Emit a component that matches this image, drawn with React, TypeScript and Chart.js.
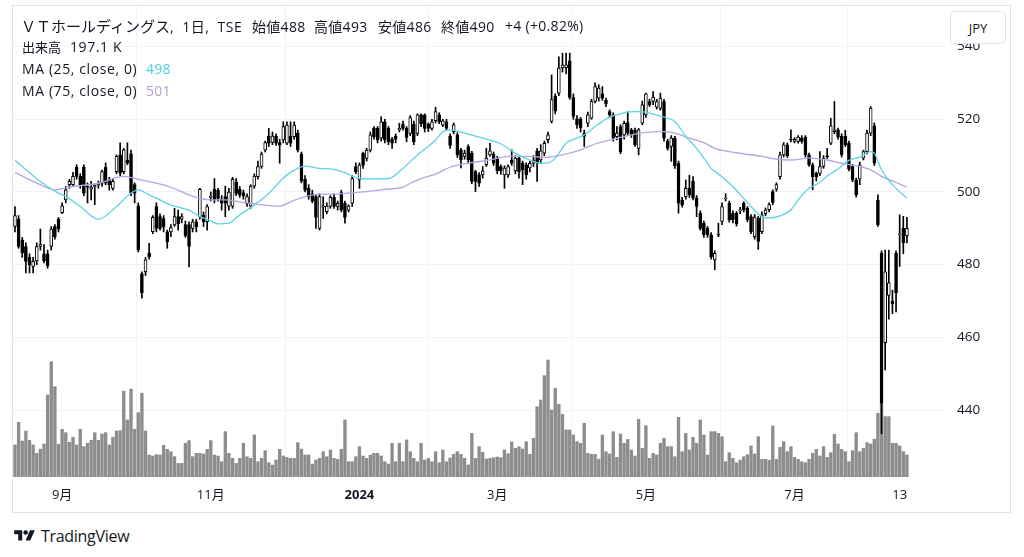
import React, { useEffect, useRef } from 'react';
import { Chart, registerables } from 'chart.js';

Chart.register(...registerables);

// ---- Data (index 0 = 2023-08-15 ... index 246 = 2024-08-15) ----
const opens: number[] = [
  490.5, 492.5, 486.8, 485, 482, 479.5, 481, 485, 483, 483,
  485, 490.5, 492.5, 494.3, 497.8, 502, 502, 506.8, 504.3, 506.8,
  501.5, 500.8, 501.5, 502, 502.4, 506.8, 503.3, 501, 505.6, 510.2,
  505.6, 508.8, 510.5, 502, 496.2, 477.5, 478.1, 483.2, 489.1, 496,
  493.2, 492.7, 489, 489, 490.9, 493.2, 492.5, 491, 491, 490,
  491.8, 493.2, 493.6, 491.8, 498.5, 500.7, 500.5, 498, 498.7, 496.1,
  496.1, 502.8, 500.7, 499.8, 496.7, 496.1, 501.6, 504.2, 507, 511.5,
  515.4, 513.6, 515.4, 513.6, 514.3, 513.4, 515.4, 515.2, 516.3, 510.4,
  503.5, 501, 499.5, 498.7, 490, 495.8, 494.6, 496, 498.5, 496,
  499.8, 496.9, 495, 496.9, 507, 503.3, 510.6, 509.2, 511.5, 517.5,
  517.5, 514.8, 519.3, 517.5, 514.5, 515.4, 517.1, 518.7, 517.5, 516.1,
  518.7, 516.1, 521.2, 521.2, 518.7, 517.5, 519.6, 521.2, 518.4, 519.3,
  515.4, 516.6, 515.7, 511.6, 509.8, 512.5, 510.7, 505.6, 504.7, 504.7,
  507.5, 510.2, 510.4, 509.3, 507, 504.7, 504.7, 508.8, 505.8, 509.3,
  507.9, 507.5, 506.6, 507.9, 511.3, 508.8, 510.7, 514.4, 519.4, 526.3,
  527.2, 534.1, 534.2, 536.1, 526, 520.1, 520.1, 516.2, 518.9, 520.3,
  524.9, 525.8, 527, 525.2, 522.1, 521.2, 515.2, 518, 515.7, 519.1,
  517.1, 517.1, 512, 518.9, 521.2, 524.9, 524.9, 523.3, 523, 524.9,
  513.9, 512.5, 514.8, 507.9, 497.8, 498.7, 501, 502.9, 498.3, 494.2,
  491.4, 490, 488.2, 481.3, 488.3, 491.9, 498.1, 496.9, 494.2, 494.2,
  494.8, 496.9, 495.5, 493.2, 487.7, 492.8, 489.1, 494, 495.1, 500.1,
  500.8, 504.2, 510.2, 513, 514.4, 513.9, 513.9, 514.8, 515.1, 510.2,
  507.5, 505.1, 505.1, 507, 509.8, 513.4, 516.6, 517.1, 515.3, 515.3,
  513.4, 507, 503.3, 503.5, 509.3, 511.1, 516.2, 518.2, 497.8, 483.2,
  458.5, 471.5, 470, 483.2, 488.2, 490, 488,
];

const highs: number[] = [
  496, 493.5, 487.5, 486, 483, 482, 486, 489.8, 485.5, 484,
  490.5, 491, 493, 497, 501.5, 503.5, 505.4, 507.5, 505, 507.5,
  502.5, 502.9, 502, 503, 506, 508, 504, 503.5, 510.2, 513.5,
  512, 513.5, 511.5, 502.5, 497, 478, 482, 485.9, 493.5, 497,
  494, 493.5, 489.5, 491, 495.5, 495, 494, 492, 491.8, 492.5,
  492.5, 501, 494.5, 496.5, 500, 503.7, 501, 499, 501.6, 501,
  504, 503.7, 501.5, 500.5, 499.5, 502, 505, 508.5, 511, 514,
  517.5, 516.5, 516, 514.5, 519.3, 519.3, 519.3, 519.3, 517, 511,
  504.5, 502, 500.5, 499.2, 499.5, 498.7, 497, 499, 499.5, 497.5,
  500.5, 497.5, 496.5, 504.5, 508, 508, 511, 512, 516.5, 518,
  518, 520.7, 520, 518, 515, 516, 518.9, 519.5, 518, 521,
  519.5, 521.5, 521.5, 521.5, 519, 520, 523.3, 521.8, 520, 520,
  516, 519, 516.3, 512, 511.5, 513, 511.2, 506, 505.3, 507,
  512, 513.4, 511, 509.8, 507.5, 507.2, 507.5, 511.6, 510, 509.8,
  508.5, 508, 508.5, 510, 512, 513, 514, 516.5, 532.2, 527,
  537.2, 538.2, 538.2, 538.2, 527, 521, 520.5, 517, 522, 525.5,
  530, 529.5, 529, 525.8, 522.6, 521.8, 518, 518.5, 519.5, 522.1,
  517.5, 517.6, 517.5, 525, 527.2, 525.5, 527.6, 525.5, 527.2, 525.5,
  514.5, 515.5, 515.3, 508.5, 498.5, 503.3, 504.6, 504.2, 499, 494.8,
  492, 490.5, 488.8, 483.8, 491.4, 497, 499.5, 497.5, 494.8, 494.6,
  495.8, 497.3, 496, 493.8, 493.8, 493.3, 494.5, 495.6, 497, 500.6,
  502.5, 511, 513.6, 513.5, 517.1, 515, 515.5, 515.5, 515.5, 510.7,
  508, 505.5, 511.1, 510, 512, 520.3, 524.9, 517.6, 516, 517,
  514, 507.6, 503.8, 508.2, 511.5, 517, 523.5, 519, 499.2, 483.8,
  484, 484, 473, 483.8, 493.7, 493.3, 493,
];

const lows: number[] = [
  489, 484.5, 482, 477.7, 477.7, 477.7, 480, 484, 480.5, 479,
  484, 487, 489, 494, 497, 501, 501.5, 503.5, 501, 499,
  497, 497.8, 496.5, 501, 501.5, 502, 500.5, 500.5, 505, 504.5,
  505, 507.5, 499, 497, 483.5, 470.8, 477, 481.5, 488.5, 489,
  489.5, 489, 484.5, 487.7, 490.5, 489.5, 491.5, 487.5, 479.4, 489,
  489, 492.5, 490.5, 489.5, 497.5, 497, 497.5, 495, 493.2, 495,
  495.5, 499, 498.5, 498, 496, 495.5, 501, 503.5, 506.5, 511,
  512.5, 513, 512.8, 507.9, 513.5, 513, 512.5, 514.5, 511, 502.5,
  500, 498, 497, 490, 489.5, 492.7, 494, 495.5, 495.5, 495,
  494.5, 491.4, 494.5, 496, 505, 501, 506.5, 508.5, 511, 514.5,
  513.5, 514, 513.5, 513, 512, 513.5, 516.5, 517, 513.8, 515.5,
  513, 515.5, 518, 516.5, 516.6, 517, 519, 518.8, 518, 517,
  512, 516, 509.5, 506.6, 509, 508, 502.3, 500.1, 501.5, 503.8,
  507, 509.8, 507.3, 505, 504.8, 501, 504, 507.3, 505, 503.8,
  502, 503.5, 505.5, 507, 502.9, 508, 510, 513.5, 519, 521.5,
  526.5, 533, 532.5, 525.5, 520, 517.5, 516.5, 512.5, 518, 520,
  524.5, 525, 525.2, 523.5, 520.5, 514, 514.3, 510.5, 514.5, 515.5,
  515, 512.5, 510.2, 518.5, 520.5, 523.5, 524, 522.8, 522.5, 514,
  511.5, 508.4, 506.5, 494.2, 495.8, 498, 498.5, 497.8, 493.2, 489.5,
  487.5, 487.5, 481.5, 478.6, 487.7, 491, 497.5, 491.7, 491.5, 490.6,
  494, 494.5, 491.8, 488.5, 487, 484.2, 488.5, 493.5, 494.5, 496.5,
  500.2, 503.5, 509.6, 509.5, 513.8, 513.5, 513.4, 513.4, 509.6, 507,
  500.6, 503, 504.5, 506.5, 509.2, 513, 516, 514.5, 509.6, 512.5,
  505.8, 502.8, 498.6, 502, 508.8, 510.5, 515.5, 507.3, 490.5, 433.5,
  451, 465, 466.5, 467, 479.5, 483, 486,
];

const closes: number[] = [
  493.5, 485, 483.2, 480.9, 480, 480.9, 485, 485.5, 481, 479.7,
  489.8, 487.7, 489.8, 496.2, 500.6, 502.9, 504.3, 504.3, 502, 499.7,
  501.3, 501.3, 501.8, 502.4, 505.6, 502.4, 502, 502.9, 509.8, 505.2,
  511.6, 507.9, 499.7, 499.7, 484.1, 472.3, 481.3, 482.2, 493, 490,
  490, 490.4, 486.3, 490.2, 493.2, 491.2, 493.2, 488, 485, 491.8,
  490.4, 500.7, 491.8, 496, 498.7, 497.8, 498.2, 496.9, 496.9, 500,
  503.5, 499.6, 499.2, 498.9, 498.7, 501.6, 504.4, 507, 510.4, 513.6,
  513.4, 515.4, 513.4, 512.9, 518, 518.4, 513.4, 518.4, 511.5, 503,
  500.5, 498.7, 497.5, 493, 498.7, 496.2, 496.1, 498.5, 496, 496.9,
  495, 493, 496.1, 503.7, 505.6, 507.4, 507.4, 511.5, 515.7, 515.2,
  514.3, 519.3, 514.3, 513.8, 513.4, 514.5, 517.5, 517.5, 515, 520.5,
  513.8, 521.2, 518.7, 517.5, 517.5, 519.3, 522.1, 519.3, 519.6, 517.5,
  512.8, 518.5, 510.2, 508.8, 510.7, 508.8, 502.9, 502.9, 502.4, 505.8,
  509.3, 511.3, 507.9, 505.8, 505.8, 506.6, 507, 507.9, 509.3, 505.6,
  506.1, 504.7, 507.9, 508.8, 507.9, 511.3, 513.4, 515.7, 525.4, 522.2,
  534.1, 535, 535, 526, 520.8, 518.5, 517.7, 515.3, 521.2, 524.9,
  529, 528.6, 525.8, 524.2, 521.2, 514.8, 516.2, 511.1, 518.9, 516.2,
  515.7, 513, 517.1, 524, 527, 524, 526.1, 524.9, 525.8, 514.8,
  512, 514.8, 507.2, 496.9, 496.4, 501, 499.2, 498.3, 496, 490,
  488.2, 488.2, 482.2, 483.1, 488.1, 496, 498.3, 492.3, 492.3, 491.2,
  495.1, 495.1, 492.3, 489.1, 493.1, 486.4, 493.7, 495.1, 496.5, 497.1,
  502, 510.2, 513, 509.9, 514.3, 514.5, 515.1, 513.9, 510.2, 507.5,
  504.2, 504.2, 507, 509.3, 509.7, 518.2, 517.1, 515.1, 510.2, 513,
  506.3, 503.3, 499.2, 507.5, 511.1, 516.2, 523.1, 507.9, 490.9, 441.9,
  478, 475, 469.2, 472.2, 488.5, 486, 490,
];

// volume in thousands of shares
const volumesK: number[] = [
  287, 490, 322, 412, 329, 287, 212, 250, 296, 735,
  1033, 809, 293, 427, 397, 311, 356, 287, 427, 272,
  302, 329, 397, 329, 385, 397, 287, 356, 412, 415,
  768, 511, 788, 427, 577, 750, 412, 197, 188, 200,
  198, 284, 248, 227, 182, 122, 122, 302, 326, 182,
  212, 212, 206, 248, 326, 197, 188, 137, 406, 212,
  167, 122, 167, 302, 182, 167, 376, 137, 167, 236,
  128, 107, 152, 248, 188, 176, 167, 167, 308, 250,
  198, 198, 116, 152, 167, 227, 182, 242, 167, 158,
  248, 511, 137, 137, 182, 272, 188, 167, 197, 212,
  212, 188, 137, 116, 302, 137, 302, 137, 332, 227,
  167, 137, 302, 152, 167, 137, 227, 128, 242, 137,
  170, 203, 227, 203, 167, 108, 391, 167, 272, 221,
  161, 167, 173, 179, 173, 242, 209, 314, 257, 272,
  251, 317, 203, 347, 630, 690, 908, 1048, 600, 794,
  651, 561, 421, 421, 376, 317, 302, 481, 212, 203,
  203, 160, 376, 227, 206, 406, 176, 385, 302, 337,
  242, 188, 517, 257, 460, 167, 212, 197, 302, 347,
  272, 272, 182, 535, 227, 391, 242, 355, 302, 511,
  376, 197, 406, 406, 391, 361, 137, 218, 167, 128,
  152, 182, 200, 278, 206, 361, 158, 158, 150, 457,
  158, 266, 317, 227, 272, 176, 158, 137, 128, 158,
  212, 248, 188, 272, 176, 218, 382, 296, 248, 227,
  137, 236, 397, 227, 257, 308, 296, 338, 571, 660,
  541, 541, 302, 302, 278, 227, 197.1,
];

// moving averages: [candle index, value]
const ma25Read: [number, number][] = [
  [0, 508.7], [7, 502.9], [12, 499.7], [14, 498.8], [18, 496], [23, 492.5],
  [28, 496], [32, 499.7], [34, 500.6], [37, 499.2], [39, 498.3], [43, 496.4],
  [48, 495], [51, 493.2], [54, 492.1], [56, 491.2], [59, 491.4], [62, 493.7],
  [64, 495], [66, 496.4], [70, 499.6], [73, 502.8], [75, 504.7], [78, 506.5],
  [80, 507.1], [84, 506.5], [88, 506.2], [91, 505.3], [95, 503.7], [99, 503.6],
  [103, 503.7], [107, 506.5], [111, 510.2], [116, 514.3], [118, 516.6], [120, 517.1],
  [124, 516.2], [129, 514.8], [134, 513.2], [138, 510.7], [142, 508.8], [145, 507.9],
  [147, 508], [149, 509.3], [152, 513.4], [155, 514.8], [157, 515.7], [160, 518],
  [164, 520.6], [167, 521.5], [169, 522], [172, 522.1], [175, 521.7], [178, 520.9],
  [180, 520.3], [182, 519.4], [185, 515.3], [188, 512], [190, 509.3], [192, 506.5],
  [195, 504.2], [198, 501.5], [201, 498.2], [203, 496], [206, 493.2], [208, 492.8],
  [211, 493.4], [214, 495.1], [216, 497.8], [219, 501], [222, 502.6], [224, 504.4],
  [227, 506.3], [230, 508.7], [233, 509.6], [236, 511.1], [237, 510.7], [239, 506.1],
  [242, 502], [246, 498.3],
];

const ma75Read: [number, number][] = [
  [0, 505.4], [7, 502], [11, 500.6], [16, 501.5], [23, 502.4], [30, 504.3],
  [34, 503.5], [39, 502.4], [43, 501.3], [48, 499.2], [51, 498.2], [54, 497.8],
  [58, 497.8], [62, 497.3], [66, 496.7], [73, 496.1], [76, 497.3], [80, 498.7],
  [84, 499.4], [88, 499.4], [93, 499.8], [97, 500.1], [102, 500.7], [107, 501.3],
  [109, 502.4], [112, 503.7], [116, 504.9], [120, 506.8], [125, 507.9], [131, 508.8],
  [136, 509.8], [142, 509.8], [146, 509.5], [151, 510.2], [156, 511.6], [160, 513.2],
  [165, 514.5], [170, 515.7], [174, 516.4], [179, 516.6], [182, 516.2], [186, 514.8],
  [190, 513.6], [193, 512], [197, 511.1], [201, 510.5], [206, 509.8], [210, 509],
  [214, 508.8], [219, 509.3], [224, 508.8], [228, 507.9], [232, 507.2], [236, 506.1],
  [239, 504.3], [243, 502.6], [246, 501.3],
];

const timeTickIdx: number[] = [13, 54, 95, 133, 174, 215, 244];
const timeTickLabels: string[] = ['9月', '11月', '2024', '3月', '5月', '7月', '13'];
const priceTicks: number[] = [440, 460, 480, 500, 520, 540];

const FONT = "'Open Sans', 'Noto Sans CJK JP', sans-serif";
const CJK = "'Noto Sans CJK JP', 'Open Sans', sans-serif";
const TEXT = '#131722';

function ChartCanvas() {
  const ref = useRef<HTMLCanvasElement | null>(null);
  useEffect(() => {
    if (!ref.current) return;
    const idx = closes.map((_, i) => i);
    const chart = new Chart(ref.current, {
      type: 'bar',
      data: {
        datasets: [
          {
            type: 'line',
            label: 'MA25',
            data: ma25Read.map(([x, y]) => ({ x, y })),
            borderColor: '#5fd3e3',
            borderWidth: 1.3,
            pointRadius: 0,
            cubicInterpolationMode: 'monotone',
            yAxisID: 'y',
            order: 1,
          } as any,
          {
            type: 'line',
            label: 'MA75',
            data: ma75Read.map(([x, y]) => ({ x, y })),
            borderColor: '#b7a3de',
            borderWidth: 1.3,
            pointRadius: 0,
            cubicInterpolationMode: 'monotone',
            yAxisID: 'y',
            order: 2,
          } as any,
          {
            type: 'bar',
            label: 'body',
            data: idx.map((i) => ({ x: i, y: [opens[i], closes[i]] })),
            backgroundColor: idx.map((i) => (closes[i] >= opens[i] ? '#ffffff' : '#000000')),
            borderColor: '#000000',
            borderWidth: 1,
            borderSkipped: false,
            barThickness: 3,
            minBarLength: 1,
            grouped: false,
            yAxisID: 'y',
            order: 3,
          } as any,
          {
            type: 'bar',
            label: 'wick',
            data: idx.map((i) => ({ x: i, y: [lows[i], highs[i]] })),
            backgroundColor: '#000000',
            borderWidth: 0,
            barThickness: 1,
            grouped: false,
            yAxisID: 'y',
            order: 4,
          } as any,
          {
            type: 'bar',
            label: 'volume',
            data: idx.map((i) => ({ x: i, y: volumesK[i] })),
            backgroundColor: '#8d8d8d',
            borderWidth: 0,
            barThickness: 2.7,
            grouped: false,
            yAxisID: 'yVol',
            order: 5,
          } as any,
        ],
      },
      options: {
        animation: false,
        responsive: false,
        maintainAspectRatio: false,
        layout: { padding: 0 },
        plugins: { legend: { display: false }, tooltip: { enabled: false } },
        scales: {
          x: {
            type: 'linear',
            min: -0.55,
            max: 256.5,
            offset: false,
            afterBuildTicks: (s: any) => {
              s.ticks = timeTickIdx.map((v) => ({ value: v }));
            },
            afterFit: (s: any) => {
              s.height = 35;
              s.paddingLeft = 0;
              s.paddingRight = 0;
            },
            ticks: {
              autoSkip: false,
              maxRotation: 0,
              padding: 10,
              color: TEXT,
              font: (ctx: any) => ({
                size: 13,
                family: FONT,
                weight: ctx.tick && ctx.tick.value === 95 ? 'bold' : 'normal',
              }),
              callback: (v: any) => {
                const k = timeTickIdx.indexOf(Number(v));
                return k >= 0 ? timeTickLabels[k] : '';
              },
            },
            grid: { color: '#f0f3fa', drawTicks: false },
            border: { display: false },
          },
          y: {
            type: 'linear',
            position: 'right',
            min: 421.57,
            max: 551.17,
            afterBuildTicks: (s: any) => {
              s.ticks = priceTicks.map((v) => ({ value: v }));
            },
            afterFit: (s: any) => {
              s.width = 65;
              s.paddingTop = 0;
              s.paddingBottom = 0;
            },
            ticks: {
              padding: 12,
              color: TEXT,
              font: { size: 13.5, family: FONT },
              callback: (v: any) => String(v),
            },
            grid: { color: '#f0f3fa', drawTicks: false },
            border: { display: false },
          },
          yVol: {
            type: 'linear',
            display: false,
            min: 0,
            max: 4220,
          },
        },
      } as any,
    });
    return () => chart.destroy();
  }, []);
  return <canvas ref={ref} width={997} height={506} style={{ display: 'block', width: 997, height: 506 }} />;
}

function Logo() {
  return (
    <div style={{ position: 'absolute', left: 13, top: 525, display: 'flex', alignItems: 'center', gap: 5 }}>
      <svg width="23" height="16" viewBox="0 0 36 28">
        <path d="M14 22H7V11H0V4h14v18z" fill={TEXT} />
        <circle cx="20" cy="8" r="4" fill={TEXT} />
        <path d="M28 22h-8L27.5 4H36l-8 18z" fill={TEXT} />
      </svg>
      <span style={{ fontFamily: FONT, fontSize: 16, color: TEXT, letterSpacing: -0.3 }}>TradingView</span>
    </div>
  );
}

function Txt(props: {
  x: number;
  cy: number;
  size: number;
  family?: string;
  color?: string;
  ls?: number;
  children: React.ReactNode;
}) {
  return (
    <div
      style={{
        position: 'absolute',
        left: props.x,
        top: props.cy - 10,
        height: 20,
        lineHeight: '20px',
        fontSize: props.size,
        fontFamily: props.family || FONT,
        color: props.color || TEXT,
        letterSpacing: props.ls || 0,
        whiteSpace: 'nowrap',
      }}
    >
      {props.children}
    </div>
  );
}

export default function App() {
  useEffect(() => {
    document.body.style.margin = '0';
  }, []);
  const lastVol = volumesK[volumesK.length - 1];
  const n = closes.length - 1;
  const chg = closes[n] - closes[n - 1];
  const pct = (chg / closes[n - 1]) * 100;
  return (
    <div style={{ position: 'fixed', left: 0, top: 0, width: 1024, height: 557, background: '#fff', overflow: 'hidden' }}>
      <div style={{ position: 'absolute', left: 12, top: 5, width: 997, height: 506, border: '1px solid #e0e3eb' }} />
      <div style={{ position: 'absolute', left: 13, top: 6 }}>
        <ChartCanvas />
      </div>
      <Txt x={21} cy={26} size={15} family={CJK}>ＶＴホールディングス</Txt>
      <Txt x={170} cy={26} size={14} ls={0.5}>
        <span style={{ wordSpacing: 4 }}>, 1</span>
        <span style={{ fontFamily: CJK }}>日</span>
        <span style={{ wordSpacing: 4 }}>, TSE</span>
      </Txt>
      <Txt x={252} cy={26} size={14} ls={0.3}><span style={{ fontFamily: CJK }}>始値</span>{Math.round(opens[n])}</Txt>
      <Txt x={314} cy={26} size={14} ls={0.3}><span style={{ fontFamily: CJK }}>高値</span>{Math.round(highs[n])}</Txt>
      <Txt x={378} cy={26} size={14} ls={0.3}><span style={{ fontFamily: CJK }}>安値</span>{Math.round(lows[n])}</Txt>
      <Txt x={441} cy={26} size={14} ls={0.3}><span style={{ fontFamily: CJK }}>終値</span>{Math.round(closes[n])}</Txt>
      <Txt x={505} cy={26} size={14} ls={0.3}>
        {(chg >= 0 ? '+' : '') + Math.round(chg)} ({(pct >= 0 ? '+' : '') + pct.toFixed(2)}%)
      </Txt>
      <Txt x={22} cy={47} size={13} family={CJK}>出来高</Txt>
      <Txt x={70} cy={47} size={14} ls={0.6}>{lastVol.toFixed(1)} K</Txt>
      <Txt x={22} cy={69} size={14} ls={0.6}>MA (25, close, 0)</Txt>
      <Txt x={146} cy={69} size={14} ls={0.3} color="#4fcfe0">498</Txt>
      <Txt x={22} cy={91} size={14} ls={0.6}>MA (75, close, 0)</Txt>
      <Txt x={146} cy={91} size={14} ls={0.3} color="#b39ddb">501</Txt>
      <div
        style={{
          position: 'absolute',
          left: 950,
          top: 11,
          width: 54,
          height: 31,
          border: '1px solid #e0e3eb',
          borderRadius: 5,
          background: '#fff',
          fontFamily: FONT,
          fontSize: 13,
          color: TEXT,
          display: 'flex',
          alignItems: 'center',
          justifyContent: 'center',
        }}
      >
        JPY
      </div>
      <Logo />
    </div>
  );
}
